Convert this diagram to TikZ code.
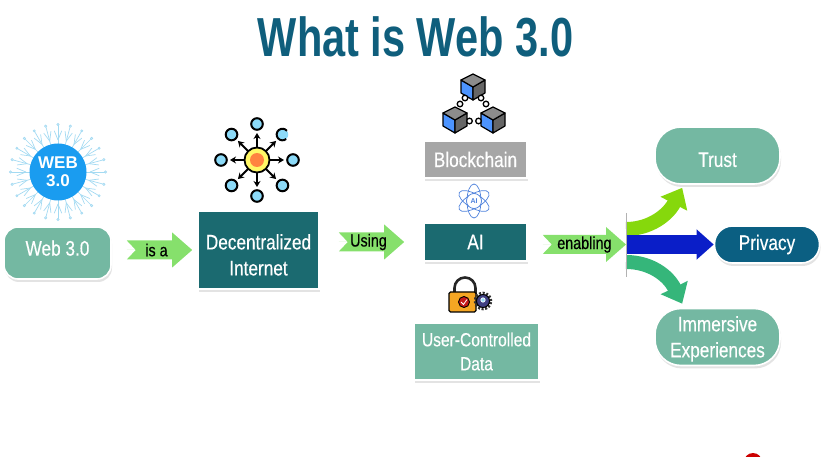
\documentclass[tikz,border=0pt]{standalone}
\usepackage{fontspec}
\setmainfont{Liberation Sans}
\newfontfamily\labelfont[FakeStretch=0.82,FakeBold=0.35]{Liberation Sans}
\newfontfamily\titlefont[FakeStretch=0.755]{Liberation Sans}
\usetikzlibrary{positioning,calc,arrows.meta,shadows}
\definecolor{titleblue}{HTML}{0F5E7C}
\definecolor{softteal}{HTML}{74B8A2}
\definecolor{deepteal}{HTML}{1B6A70}
\definecolor{privblue}{HTML}{0B5F82}
\definecolor{boxgrey}{HTML}{A6A6A6}
\definecolor{flowgreen}{HTML}{86E06C}
\definecolor{rayblue}{HTML}{A3DAF2}
\definecolor{badgeblue}{HTML}{1A9CF0}
\definecolor{atomblue}{HTML}{4F82DC}
\definecolor{limearrow}{HTML}{86D80C}
\definecolor{seaarrow}{HTML}{35B67A}
\definecolor{royalarrow}{HTML}{0A1EC8}
\definecolor{lockorange}{HTML}{F5A623}
\tikzset{
	labelbox/.style={draw=white,line width=1.6pt,text=white,align=center,font=\labelfont\fontsize{21}{26}\selectfont,inner sep=0pt,drop shadow={shadow xshift=1pt,shadow yshift=-3pt,opacity=.22}},
	flow/.style={fill=flowgreen,to path={($(\tikztostart)+(0,-9.5)$) -- ($(\tikztotarget)+(-20,-9.5)$) -- ($(\tikztotarget)+(-20,-17.5)$) -- (\tikztotarget) -- ($(\tikztotarget)+(-20,17.5)$) -- ($(\tikztotarget)+(-20,9.5)$) -- ($(\tikztostart)+(0,9.5)$) -- ($(\tikztostart)+(9,0)$) -- cycle (\tikztostart) -- (\tikztotarget) \tikztonodes}},
	flowtext/.style={text=black,inner sep=0pt,font=\labelfont\fontsize{17.5}{18}\selectfont},
	branch/.style={line width=14pt,-{Triangle[length=18pt,width=29pt]}},
	ray/.style={draw=rayblue,line width=.7pt},
	spoke/.style={line width=1.9pt,-{Stealth[length=6pt,width=7pt]}},
	outernode/.style={draw=black,line width=2pt,fill=cyan!45!white},
	cubeline/.style={draw=black,line width=1.2pt,line join=round}
}
\begin{document}
\begin{tikzpicture}[x=1pt,y=-1pt]
	\useasboundingbox (0,0) rectangle (823,457);

	\node[text=titleblue,font=\titlefont\bfseries\fontsize{55}{60}\selectfont] (title) at (415.5,37) {What is Web 3.0};

	% boxes
	\node[labelbox,fill=softteal,rounded corners=14pt,minimum width=107pt,minimum height=52pt] (web) at (57.5,253) {\rule[-10pt]{0pt}{10pt}Web 3.0};
	\node[labelbox,fill=deepteal,minimum width=121pt,minimum height=78pt] (dec) at (258.5,250) {\rule{0pt}{25pt}Decentralized\\Internet};
	\node[labelbox,fill=boxgrey,minimum width=103pt,minimum height=37pt] (chain) at (475.5,159.5) {Blockchain};
	\node[labelbox,fill=deepteal,minimum width=103pt,minimum height=38pt] (ai) at (475.5,242) {AI};
	\node[labelbox,fill=softteal,minimum width=125pt,minimum height=57pt,font=\labelfont\fontsize{19}{24}\selectfont] (data) at (476.5,351.5) {User-Controlled\\Data};
	\node[labelbox,fill=softteal,rounded corners=26pt,minimum width=125pt,minimum height=57pt] (trust) at (717.5,155.5) {\rule{0pt}{23pt}Trust};
	\node[labelbox,fill=privblue,rounded corners=18pt,minimum width=105pt,minimum height=37pt] (privacy) at (767,244.5) {Privacy};
	\node[labelbox,fill=softteal,rounded corners=26pt,minimum width=125pt,minimum height=57pt] (immersive) at (717.5,337) {\rule{0pt}{19pt}Immersive\\Experiences};

	% green arrows
	\coordinate (isastart) at ($(web.east |- dec.west)+(15,0)$);
	\coordinate (isaend) at ($(dec.west)+(-5,0)$);
	\path[flow] (isastart) to node[flowtext,xshift=-3pt]{is a} (isaend);
	\coordinate (usingstart) at ($(dec.east |- ai.west)+(19,0)$);
	\coordinate (usingend) at ($(ai.west)+(-19,0)$);
	\path[flow] (usingstart) to node[flowtext,xshift=-3pt]{Using} (usingend);

	% split towards the three results
	\coordinate (split) at (626,244.5);
	\coordinate (splittop) at (626,229);
	\coordinate (splitbot) at (626,262);
	\coordinate (trusttip) at ($(trust.south west)+(28,3)$);
	\coordinate (immersivetip) at ($(immersive.north west)+(28,-4)$);
	\draw[branch,color=limearrow] (splittop) .. controls (650,229) and (668,215) .. (trusttip);
	\draw[branch,color=seaarrow] (splitbot) .. controls (650,262) and (668,275) .. (immersivetip);
	\draw[line width=19pt,draw=royalarrow,-{Triangle[length=17pt,width=29pt]}] (split) -- (privacy.west);
	\draw[line width=.8pt,draw=black!30] (626,213) -- (626,277);
	\coordinate (enablingstart) at ($(ai.east |- split)+(15,0)$);
	\path[flow] (enablingstart) to node[flowtext]{enabling} (split);

	% web 3.0 badge
	\coordinate (badge) at (58,172);
	\foreach \a in {0,15,...,345}{
		\draw[ray] (badge) ++(\a:28) -- ++(\a:19);
		\draw[ray] (badge) ++(\a:32) -- ++(\a+22:10);
		\draw[ray] (badge) ++(\a:32) -- ++(\a-22:10);
		\draw[ray,fill=white] (badge) ++(\a:47.5) circle (1.1pt);
	}
	\node[circle,fill=badgeblue,minimum size=57pt,inner sep=0pt,text=white,align=center,font=\bfseries\fontsize{17}{18}\selectfont] (badgetext) at (badge) {WEB\\3.0};

	% decentralized icon
	\coordinate (hub) at (257,160);
	\foreach \a in {0,45,...,315}{
		\draw[spoke] (hub) ++(\a:12) -- ++(\a:15);
	}
	\foreach \a in {0,45,90,135,180,225,270}{
		\draw[outernode] (hub) ++(\a:36) circle (5.8pt);
	}
	\fill[cyan!45!white] (hub) ++(315:36) circle (5.8pt);
	\draw[line width=2pt] ($(hub)+(315:36)+(50:5.8)$) arc (50:320:5.8pt and -5.8pt);
	\draw[line width=1.8pt,fill=yellow!60!white] (hub) circle (12.5pt);
	\fill[orange!70!red!75!white] (hub) circle (7pt);

	% blockchain icon
	\foreach \cx/\cy in {473/87,455/120,493/120}{
		\fill[blue!60!cyan!70!white,cubeline] (\cx-12,\cy-7) -- (\cx,\cy) -- (\cx,\cy+13) -- (\cx-12,\cy+6) -- cycle;
		\fill[black!60,cubeline] (\cx+12,\cy-7) -- (\cx,\cy) -- (\cx,\cy+13) -- (\cx+12,\cy+6) -- cycle;
		\fill[black!45,cubeline] (\cx-12,\cy-7) -- (\cx,\cy-13) -- (\cx+12,\cy-7) -- (\cx,\cy) -- cycle;
	}
	\foreach \p/\q in {465/98,460/104,481/98,486/104,469.5/121,478.5/121}{
		\draw[line width=1.3pt,fill=white] (\p,\q) circle (2.8pt);
	}

	% ai icon
	\foreach \a in {30,90,150}{
		\draw[draw=atomblue,line width=.7pt,rotate around={\a:(474,201)}] (474,201) ellipse (17pt and 7pt);
	}
	\node[circle,draw=atomblue,line width=.7pt,fill=white,text=atomblue,inner sep=0pt,minimum size=15pt,font=\bfseries\fontsize{7}{7}\selectfont] (aiglyph) at (474,201) {AI};

	% lock icon
	\draw[line width=2.6pt,draw=black!85] (454.5,294) -- (454.5,288) arc (180:0:10.5pt) -- (475.5,294);
	\draw[line width=1.3pt,fill=lockorange,rounded corners=1.5pt] (449,292) rectangle (476,312);
	\draw[line width=.9pt,fill=red!75!black!90!white] (464,302) circle (5.5pt);
	\draw[line width=.8pt,white] (461,302) -- (463.5,304.5) -- (467,299.5);
	\draw[draw=black!80,line width=2.6pt,dash pattern=on 2pt off 1.6pt] (483,301) circle (8pt);
	\draw[line width=1pt,fill=blue!35!black!75!white] (483,301) circle (6.5pt);
	\draw[line width=.7pt,draw=white,fill=cyan!40!white] (483,300) circle (2.2pt);

	% mark cut by the lower edge
	\fill[red!80!black] (753,462) circle (9pt);
\end{tikzpicture}
\end{document}
